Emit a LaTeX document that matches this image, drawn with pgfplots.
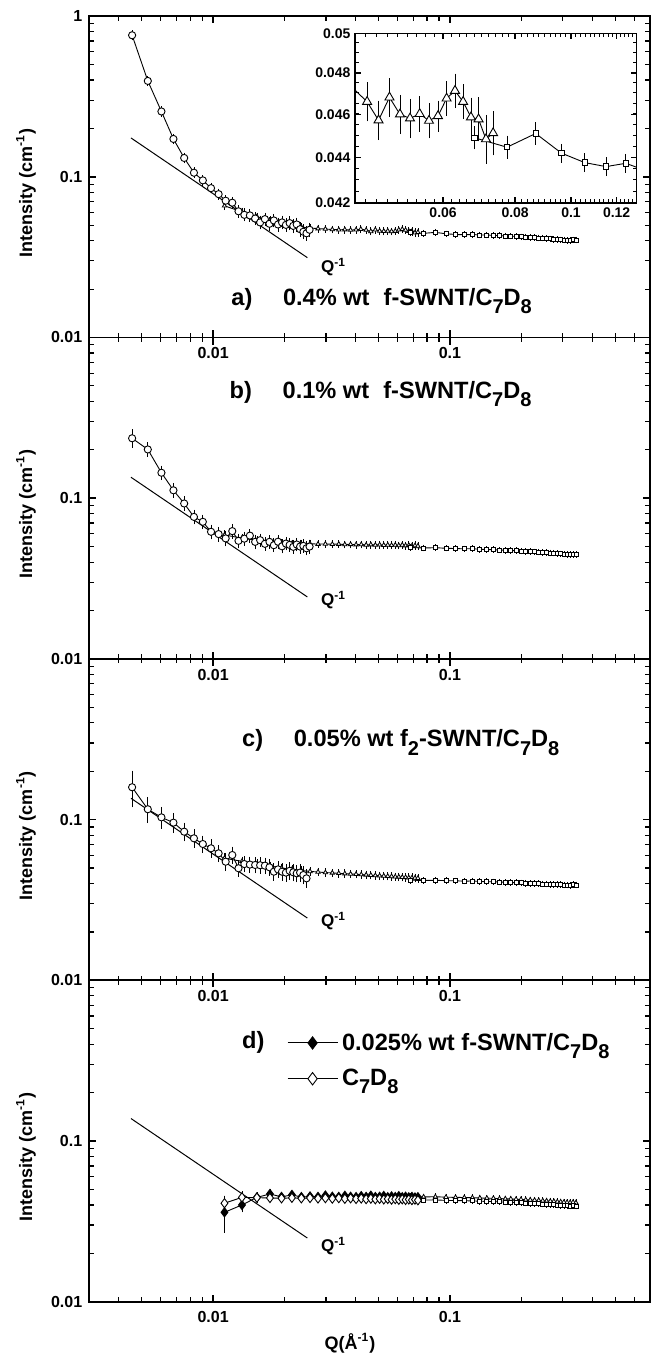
\documentclass[border=0pt]{standalone}
\usepackage{fontspec}
\setmainfont{Liberation Sans}
\usepackage{pgfplots}
\usepackage{pgfplotstable}
\pgfplotsset{compat=1.18}

% ---------- panel a) 0.4% wt ----------
\pgfplotstableread{
q I e
0.00455 0.760 0.025
0.0053 0.395 0.013
0.00605 0.255 0.009
0.0068 0.172 0.006
0.00755 0.131 0.005
0.0083 0.106 0.004
0.00905 0.095 0.0035
0.0098 0.085 0.003
0.01055 0.078 0.003
0.0113 0.071 0.003
0.01205 0.069 0.003
0.0128 0.061 0.003
0.01355 0.058 0.003
0.0143 0.0575 0.003
0.01505 0.055 0.003
0.0158 0.052 0.003
0.01655 0.0545 0.003
0.0173 0.051 0.003
0.01805 0.0535 0.003
0.0188 0.0505 0.003
0.01955 0.052 0.003
0.0203 0.0502 0.003
0.02105 0.0515 0.003
0.0218 0.0495 0.003
0.02255 0.0505 0.003
0.0233 0.0472 0.003
0.02405 0.0455 0.003
0.0248 0.0445 0.003
0.02555 0.0468 0.003
}\CircA
\pgfplotstableread{
q I e
0.01117 0.0660 0.0015
0.01324 0.0605 0.0012
0.01531 0.0565 0.0010
0.01738 0.0535 0.0010
0.01945 0.0515 0.0009
0.02152 0.0498 0.0009
0.02359 0.0487 0.0008
0.02566 0.0480 0.0008
0.02773 0.0476 0.0008
0.0298 0.0473 0.0008
0.03187 0.0470 0.0008
0.03394 0.0468 0.0008
0.03601 0.0469 0.0008
0.03808 0.0466 0.0008
0.04015 0.0468 0.0008
0.04205 0.0472 0.0008
0.04429 0.0466 0.0008
0.04636 0.04572 0.0008
0.04843 0.04681 0.0008
0.0505 0.0460 0.0008
0.05257 0.04581 0.0008
0.05464 0.04602 0.0007
0.05671 0.0457 0.0007
0.05878 0.04592 0.0006
0.06085 0.04676 0.0007
0.06292 0.04713 0.0007
0.06499 0.0466 0.0007
0.06706 0.04586 0.0008
0.06913 0.04577 0.0009
0.0712 0.04484 0.0010
0.07327 0.04512 0.0009
}\TriA
\pgfplotstableread{
q I e
0.06805 0.0449 0.0004
0.07745 0.04447 0.0004
0.08685 0.0451 0.0004
0.09625 0.0442 0.0003
0.10565 0.04377 0.0003
0.11505 0.04359 0.0003
0.12445 0.04374 0.0003
0.13385 0.04344 0.0003
0.14325 0.0434 0.0003
0.15265 0.0432 0.0003
0.16205 0.0431 0.0003
0.17145 0.0428 0.0003
0.18085 0.0427 0.0003
0.19025 0.0426 0.0003
0.19965 0.0423 0.0003
0.20905 0.0422 0.0003
0.21845 0.0420 0.0003
0.22785 0.0418 0.0003
0.23725 0.0416 0.0003
0.24665 0.0415 0.0003
0.25605 0.0413 0.0003
0.26545 0.0411 0.0003
0.27485 0.0409 0.0003
0.28425 0.0407 0.0003
0.29365 0.0405 0.0003
0.30305 0.0404 0.0003
0.31245 0.0402 0.0003
0.32185 0.0401 0.0003
0.33125 0.0405 0.0003
0.34065 0.0404 0.0003
}\SqA

% ---------- panel b) 0.1% wt ----------
\pgfplotstableread{
q I e
0.00455 0.236 0.022
0.0053 0.201 0.013
0.00605 0.144 0.009
0.0068 0.112 0.007
0.00755 0.0927 0.006
0.0083 0.0765 0.005
0.00905 0.0713 0.0045
0.0098 0.0618 0.004
0.01055 0.0598 0.004
0.0113 0.0562 0.004
0.01205 0.0624 0.004
0.0128 0.0543 0.0035
0.01355 0.0560 0.0035
0.0143 0.0585 0.0035
0.01505 0.0535 0.0035
0.0158 0.0548 0.003
0.01655 0.0520 0.003
0.0173 0.0535 0.003
0.01805 0.0510 0.003
0.0188 0.0536 0.003
0.01955 0.0502 0.003
0.0203 0.0522 0.003
0.02105 0.0512 0.003
0.0218 0.0498 0.003
0.02255 0.0515 0.003
0.0233 0.0500 0.003
0.02405 0.0505 0.003
0.0248 0.0488 0.003
0.02555 0.0500 0.003
}\CircB
\pgfplotstableread{
q I e
0.01117 0.0590 0.0015
0.01324 0.0565 0.0012
0.01531 0.0545 0.0010
0.01738 0.0532 0.0010
0.01945 0.0525 0.0009
0.02152 0.0522 0.0009
0.02359 0.0520 0.0008
0.02566 0.0521 0.0008
0.02773 0.0518 0.0008
0.0298 0.0519 0.0008
0.03187 0.0517 0.0008
0.03394 0.0518 0.0008
0.03601 0.0515 0.0008
0.03808 0.0516 0.0008
0.04015 0.0514 0.0008
0.04222 0.0515 0.0008
0.04429 0.0512 0.0008
0.04636 0.0514 0.0008
0.04843 0.0511 0.0008
0.0505 0.0513 0.0008
0.05257 0.0510 0.0008
0.05464 0.0512 0.0008
0.05671 0.0509 0.0008
0.05878 0.0511 0.0008
0.06085 0.0508 0.0008
0.06292 0.0512 0.0008
0.06499 0.0507 0.0008
0.06706 0.0509 0.0009
0.06913 0.0505 0.0009
0.0712 0.0507 0.0010
0.07327 0.0504 0.0010
}\TriB
\pgfplotstableread{
q I e
0.06805 0.0493 0.0004
0.07745 0.0490 0.0004
0.08685 0.0492 0.0004
0.09625 0.0488 0.0003
0.10565 0.0486 0.0003
0.11505 0.0484 0.0003
0.12445 0.0485 0.0003
0.13385 0.0481 0.0003
0.14325 0.0479 0.0003
0.15265 0.0478 0.0003
0.16205 0.0476 0.0003
0.17145 0.0474 0.0003
0.18085 0.0473 0.0003
0.19025 0.0471 0.0003
0.19965 0.0469 0.0003
0.20905 0.0467 0.0003
0.21845 0.0466 0.0003
0.22785 0.0464 0.0003
0.23725 0.0462 0.0003
0.24665 0.0460 0.0003
0.25605 0.0458 0.0003
0.26545 0.0456 0.0003
0.27485 0.0455 0.0003
0.28425 0.0453 0.0003
0.29365 0.0451 0.0003
0.30305 0.0449 0.0003
0.31245 0.0447 0.0003
0.32185 0.0445 0.0003
0.33125 0.0447 0.0003
0.34065 0.0446 0.0003
}\SqB

% ---------- panel c) 0.05% wt ----------
\pgfplotstableread{
q I e
0.00455 0.159 0.035
0.0053 0.116 0.017
0.00605 0.1033 0.012
0.0068 0.0957 0.010
0.00755 0.0841 0.008
0.0083 0.0765 0.007
0.00905 0.0705 0.006
0.0098 0.0663 0.006
0.01055 0.0617 0.005
0.0113 0.0547 0.005
0.01205 0.0602 0.005
0.0128 0.0498 0.004
0.01355 0.0529 0.004
0.0143 0.0525 0.004
0.01505 0.0522 0.004
0.0158 0.0520 0.004
0.01655 0.0517 0.004
0.0173 0.0505 0.004
0.01805 0.0474 0.004
0.0188 0.0490 0.004
0.01955 0.0474 0.004
0.0203 0.0468 0.004
0.02105 0.0480 0.004
0.0218 0.0470 0.004
0.02255 0.0463 0.004
0.0233 0.0468 0.004
0.02405 0.0452 0.004
0.0248 0.0431 0.004
}\CircC
\pgfplotstableread{
q I e
0.01117 0.0575 0.0018
0.01324 0.0550 0.0015
0.01531 0.0530 0.0013
0.01738 0.0515 0.0012
0.01945 0.0500 0.0011
0.02152 0.0490 0.0010
0.02359 0.0482 0.0010
0.02566 0.0476 0.0009
0.02773 0.0472 0.0009
0.0298 0.0468 0.0009
0.03187 0.0466 0.0009
0.03394 0.0463 0.0009
0.03601 0.0461 0.0009
0.03808 0.0459 0.0009
0.04015 0.0457 0.0009
0.04222 0.0455 0.0009
0.04429 0.0453 0.0009
0.04636 0.0451 0.0009
0.04843 0.0449 0.0009
0.0505 0.0447 0.0009
0.05257 0.0446 0.0009
0.05464 0.0444 0.0009
0.05671 0.0443 0.0009
0.05878 0.0441 0.0009
0.06085 0.0440 0.0009
0.06292 0.0438 0.0009
0.06499 0.0437 0.0009
0.06706 0.0435 0.0010
0.06913 0.0434 0.0010
0.0712 0.0433 0.0010
0.07327 0.0432 0.0010
}\TriC
\pgfplotstableread{
q I e
0.06805 0.0420 0.0004
0.07745 0.0418 0.0004
0.08685 0.0419 0.0004
0.09625 0.0417 0.0003
0.10565 0.0416 0.0003
0.11505 0.0414 0.0003
0.12445 0.0415 0.0003
0.13385 0.0412 0.0003
0.14325 0.0411 0.0003
0.15265 0.0410 0.0003
0.16205 0.0409 0.0003
0.17145 0.0407 0.0003
0.18085 0.0406 0.0003
0.19025 0.0405 0.0003
0.19965 0.0404 0.0003
0.20905 0.0402 0.0003
0.21845 0.0401 0.0003
0.22785 0.0400 0.0003
0.23725 0.0399 0.0003
0.24665 0.0398 0.0003
0.25605 0.0397 0.0003
0.26545 0.0396 0.0003
0.27485 0.0395 0.0003
0.28425 0.0394 0.0003
0.29365 0.0393 0.0003
0.30305 0.0392 0.0003
0.31245 0.0391 0.0003
0.32185 0.0390 0.0003
0.33125 0.0393 0.0003
0.34065 0.0392 0.0003
}\SqC

% ---------- panel d) 0.025% wt and solvent ----------
\pgfplotstableread{
q I e
0.01117 0.0360 0.0080
0.01324 0.0400 0.0025
0.01531 0.0446 0.0015
0.01738 0.0468 0.0012
0.01945 0.0449 0.0010
0.02152 0.0462 0.0010
0.02359 0.0448 0.0009
0.02566 0.0452 0.0009
0.02773 0.0449 0.0009
0.0298 0.0458 0.0009
0.03187 0.0450 0.0009
0.03394 0.0449 0.0009
0.03601 0.0456 0.0009
0.03808 0.0450 0.0009
0.04015 0.0448 0.0009
0.04222 0.0454 0.0009
0.04429 0.0449 0.0009
0.04636 0.0457 0.0009
0.04843 0.0448 0.0009
0.0505 0.0450 0.0009
0.05257 0.0455 0.0009
0.05464 0.0447 0.0009
0.05671 0.0452 0.0009
0.05878 0.0448 0.0009
0.06085 0.0454 0.0009
0.06292 0.0447 0.0009
0.06499 0.0450 0.0009
0.06706 0.0446 0.0010
0.06913 0.0449 0.0010
0.0712 0.0445 0.0010
0.07327 0.0447 0.0010
}\DiaS
\pgfplotstableread{
q I e
0.01117 0.0410 0.0030
0.01324 0.0446 0.0020
0.01531 0.0444 0.0012
0.01738 0.0442 0.0010
0.01945 0.0440 0.0009
0.02152 0.0443 0.0009
0.02359 0.0440 0.0008
0.02566 0.0442 0.0008
0.02773 0.0439 0.0008
0.0298 0.0441 0.0008
0.03187 0.0438 0.0008
0.03394 0.0441 0.0008
0.03601 0.0437 0.0008
0.03808 0.0440 0.0008
0.04015 0.0436 0.0008
0.04222 0.0439 0.0008
0.04429 0.0435 0.0008
0.04636 0.0438 0.0008
0.04843 0.0434 0.0008
0.0505 0.0437 0.0008
0.05257 0.0433 0.0008
0.05464 0.0436 0.0008
0.05671 0.0432 0.0008
0.05878 0.0435 0.0008
0.06085 0.0431 0.0008
0.06292 0.0434 0.0008
0.06499 0.0430 0.0008
0.06706 0.0433 0.0009
0.06913 0.0429 0.0009
0.0712 0.0432 0.0009
0.07327 0.0428 0.0009
}\DiaO
\pgfplotstableread{
q I e
0.06805 0.0451 0.0003
0.07745 0.0449 0.0003
0.08685 0.0450 0.0003
0.09625 0.0447 0.0003
0.10565 0.0446 0.0003
0.11505 0.0445 0.0003
0.12445 0.0444 0.0003
0.13385 0.0442 0.0003
0.14325 0.0441 0.0003
0.15265 0.0440 0.0003
0.16205 0.0438 0.0003
0.17145 0.0437 0.0003
0.18085 0.0436 0.0003
0.19025 0.0434 0.0003
0.19965 0.0433 0.0003
0.20905 0.0431 0.0003
0.21845 0.0430 0.0003
0.22785 0.0428 0.0003
0.23725 0.0427 0.0003
0.24665 0.0425 0.0003
0.25605 0.0424 0.0003
0.26545 0.0422 0.0003
0.27485 0.0421 0.0003
0.28425 0.0419 0.0003
0.29365 0.0418 0.0003
0.30305 0.0416 0.0003
0.31245 0.0415 0.0003
0.32185 0.0414 0.0003
0.33125 0.0416 0.0003
0.34065 0.0413 0.0003
}\TriD
\pgfplotstableread{
q I e
0.06805 0.0431 0.0003
0.07745 0.0429 0.0003
0.08685 0.0430 0.0003
0.09625 0.0427 0.0003
0.10565 0.0426 0.0003
0.11505 0.0425 0.0003
0.12445 0.0424 0.0003
0.13385 0.0422 0.0003
0.14325 0.0421 0.0003
0.15265 0.0420 0.0003
0.16205 0.0418 0.0003
0.17145 0.0417 0.0003
0.18085 0.0416 0.0003
0.19025 0.0414 0.0003
0.19965 0.0413 0.0003
0.20905 0.0411 0.0003
0.21845 0.0410 0.0003
0.22785 0.0408 0.0003
0.23725 0.0407 0.0003
0.24665 0.0405 0.0003
0.25605 0.0404 0.0003
0.26545 0.0402 0.0003
0.27485 0.0401 0.0003
0.28425 0.0399 0.0003
0.29365 0.0398 0.0003
0.30305 0.0396 0.0003
0.31245 0.0395 0.0003
0.32185 0.0394 0.0003
0.33125 0.0396 0.0003
0.34065 0.0394 0.0003
}\SqD

\newcommand\tickfont{\fontsize{8}{9.6}\selectfont\bfseries}
\newcommand\titlefont{\fontsize{11.8}{14}\selectfont\bfseries}
\newcommand\qfont{\fontsize{8.5}{10}\selectfont\bfseries}
\newcommand\labfont{\fontsize{9}{11}\selectfont\bfseries}
% large, low subscripts as in the original figure
\newcommand\sub[1]{\raisebox{-0.36em}{\fontsize{10}{10}\selectfont #1}}

\pgfplotsset{
  pts/.style={black, line width=0.45pt,
    error bars/y dir=both, error bars/y explicit,
    error bars/error bar style={line width=0.4pt, black},
    error bars/error mark options={black, line width=0.4pt, mark size=1.4pt}},
  circ/.style={pts, mark=*, mark size=1.8pt, mark options={fill=white, line width=0.45pt}},
  tri/.style={pts, mark=triangle*, mark size=1.25pt, mark options={fill=white, line width=0.4pt}},
  sqr/.style={pts, mark=square*, mark size=1.0pt, mark options={fill=white, line width=0.4pt}},
}

\begin{document}
\begin{tikzpicture}

% ---- a)
\begin{axis}[at={(0pt,482.1pt)}, anchor=south west,
  width=280.35pt, height=160.7pt, scale only axis,
  xmode=log, ymode=log, xmin=0.003, xmax=0.7, ymin=0.01, ymax=1,
  axis line style={line width=0.9pt}, tick align=inside,
  major tick length=3.6pt, minor tick length=2.3pt,
  every major tick/.append style={line width=0.8pt, black},
  every minor tick/.append style={line width=0.6pt, black},
  xtick={0.01,0.1}, xticklabels={0.01,0.1},
  minor xtick={0.004,0.005,0.006,0.007,0.008,0.009,0.02,0.03,0.04,0.05,0.06,0.07,0.08,0.09,0.2,0.3,0.4,0.5,0.6},
  ytick={0.01,0.1,1}, yticklabels={0.01,0.1,1},
  minor ytick={0.02,0.03,0.04,0.05,0.06,0.07,0.08,0.09,0.2,0.3,0.4,0.5,0.6,0.7,0.8,0.9},
  tick label style={font=\tickfont}, xticklabel style={yshift=-1.5pt},
  ylabel={Intensity (cm\textsuperscript{-1})},
  ylabel style={at={(axis description cs:-0.113,0.45)}, anchor=center, font=\labfont},
]
\addplot[black, line width=0.5pt, mark=none] coordinates {(0.0045,0.1745) (0.025,0.0314)};
\addplot[tri] table[x=q, y=I, y error=e] {\TriA};
\addplot[sqr] table[x=q, y=I, y error=e] {\SqA};
\addplot[circ] table[x=q, y=I, y error=e] {\CircA};
\node[anchor=base west, inner sep=0pt, font=\qfont] at (axis cs:0.0285,0.0255) {Q\textsuperscript{-1}};
\node[anchor=base west, inner sep=0pt, font=\titlefont] at (axis description cs:0.2527,0.101)
  {a)\hspace{1.3em}0.4\% wt\hspace{0.6em}f-SWNT/C\sub{7}D\sub{8}};
\end{axis}

% ---- inset of a)
\begin{axis}[at={(132.85pt,549.5pt)}, anchor=south west,
  width=140.85pt, height=84.7pt, scale only axis,
  xmode=log, ymode=log,
  xmin=0.0422, xmax=0.130, ymin=0.042, ymax=0.05,
  axis background/.style={fill=white},
  axis line style={line width=0.8pt}, tick align=inside,
  major tick length=3pt, minor tick length=1.8pt,
  every major tick/.append style={line width=0.7pt, black},
  every minor tick/.append style={line width=0.5pt, black},
  xtick={0.06,0.08,0.1,0.12}, xticklabels={0.06,0.08,0.1,0.12},
  minor xtick={0.044,0.046,...,0.129},
  ytick={0.042,0.044,0.046,0.048,0.05}, yticklabels={0.042,0.044,0.046,0.048,0.05},
  minor ytick={0.0425,0.043,...,0.0496},
  tick label style={font=\fontsize{7}{8}\selectfont\bfseries},
  xticklabel style={yshift=1pt}, yticklabel style={xshift=1.2pt},
]
\addplot[pts, mark=triangle*, mark size=2.6pt, mark options={fill=white, line width=0.45pt}]
  table[x=q, y=I, y error=e] {\TriA};
\addplot[pts, mark=square*, mark size=1.35pt, mark options={fill=white, line width=0.45pt}]
  table[x=q, y=I, y error=e] {\SqA};
\end{axis}

% ---- b)
\begin{axis}[at={(0pt,321.4pt)}, anchor=south west,
  width=280.35pt, height=160.7pt, scale only axis,
  xmode=log, ymode=log, xmin=0.003, xmax=0.7, ymin=0.01, ymax=1,
  axis line style={line width=0.9pt}, tick align=inside,
  major tick length=3.6pt, minor tick length=2.3pt,
  every major tick/.append style={line width=0.8pt, black},
  every minor tick/.append style={line width=0.6pt, black},
  xtick={0.01,0.1}, xticklabels={0.01,0.1},
  minor xtick={0.004,0.005,0.006,0.007,0.008,0.009,0.02,0.03,0.04,0.05,0.06,0.07,0.08,0.09,0.2,0.3,0.4,0.5,0.6},
  ytick={0.01,0.1,1}, yticklabels={0.01,0.1,{}},
  minor ytick={0.02,0.03,0.04,0.05,0.06,0.07,0.08,0.09,0.2,0.3,0.4,0.5,0.6,0.7,0.8,0.9},
  tick label style={font=\tickfont}, xticklabel style={yshift=-1.5pt},
  ylabel={Intensity (cm\textsuperscript{-1})},
  ylabel style={at={(axis description cs:-0.113,0.45)}, anchor=center, font=\labfont},
]
\addplot[black, line width=0.5pt, mark=none] coordinates {(0.0045,0.135) (0.025,0.0243)};
\addplot[tri] table[x=q, y=I, y error=e] {\TriB};
\addplot[sqr] table[x=q, y=I, y error=e] {\SqB};
\addplot[circ] table[x=q, y=I, y error=e] {\CircB};
\node[anchor=base west, inner sep=0pt, font=\qfont] at (axis cs:0.0285,0.0216) {Q\textsuperscript{-1}};
\node[anchor=base west, inner sep=0pt, font=\titlefont] at (axis description cs:0.2497,0.811)
  {b)\hspace{1.3em}0.1\% wt\hspace{0.6em}f-SWNT/C\sub{7}D\sub{8}};
\end{axis}

% ---- c)
\begin{axis}[at={(0pt,160.7pt)}, anchor=south west,
  width=280.35pt, height=160.7pt, scale only axis,
  xmode=log, ymode=log, xmin=0.003, xmax=0.7, ymin=0.01, ymax=1,
  axis line style={line width=0.9pt}, tick align=inside,
  major tick length=3.6pt, minor tick length=2.3pt,
  every major tick/.append style={line width=0.8pt, black},
  every minor tick/.append style={line width=0.6pt, black},
  xtick={0.01,0.1}, xticklabels={0.01,0.1},
  minor xtick={0.004,0.005,0.006,0.007,0.008,0.009,0.02,0.03,0.04,0.05,0.06,0.07,0.08,0.09,0.2,0.3,0.4,0.5,0.6},
  ytick={0.01,0.1,1}, yticklabels={0.01,0.1,{}},
  minor ytick={0.02,0.03,0.04,0.05,0.06,0.07,0.08,0.09,0.2,0.3,0.4,0.5,0.6,0.7,0.8,0.9},
  tick label style={font=\tickfont}, xticklabel style={yshift=-1.5pt},
  ylabel={Intensity (cm\textsuperscript{-1})},
  ylabel style={at={(axis description cs:-0.113,0.45)}, anchor=center, font=\labfont},
]
\addplot[black, line width=0.5pt, mark=none] coordinates {(0.0045,0.1357) (0.025,0.0244)};
\addplot[tri] table[x=q, y=I, y error=e] {\TriC};
\addplot[sqr] table[x=q, y=I, y error=e] {\SqC};
\addplot[circ] table[x=q, y=I, y error=e] {\CircC};
\node[anchor=base west, inner sep=0pt, font=\qfont] at (axis cs:0.0285,0.0216) {Q\textsuperscript{-1}};
\node[anchor=base west, inner sep=0pt, font=\titlefont] at (axis description cs:0.272,0.727)
  {c)\hspace{1.3em}0.05\% wt f\sub{2}-SWNT/C\sub{7}D\sub{8}};
\end{axis}

% ---- d)
\begin{axis}[at={(0pt,0pt)}, anchor=south west,
  width=280.35pt, height=160.7pt, scale only axis,
  xmode=log, ymode=log, xmin=0.003, xmax=0.7, ymin=0.01, ymax=1,
  axis line style={line width=0.9pt}, tick align=inside,
  major tick length=3.6pt, minor tick length=2.3pt,
  every major tick/.append style={line width=0.8pt, black},
  every minor tick/.append style={line width=0.6pt, black},
  xtick={0.01,0.1}, xticklabels={0.01,0.1},
  minor xtick={0.004,0.005,0.006,0.007,0.008,0.009,0.02,0.03,0.04,0.05,0.06,0.07,0.08,0.09,0.2,0.3,0.4,0.5,0.6},
  ytick={0.01,0.1,1}, yticklabels={0.01,0.1,{}},
  minor ytick={0.02,0.03,0.04,0.05,0.06,0.07,0.08,0.09,0.2,0.3,0.4,0.5,0.6,0.7,0.8,0.9},
  tick label style={font=\tickfont}, xticklabel style={yshift=-1.5pt},
  ylabel={Intensity (cm\textsuperscript{-1})},
  ylabel style={at={(axis description cs:-0.113,0.45)}, anchor=center, font=\labfont},
  xlabel={Q(Å\textsuperscript{-1})},
  xlabel style={at={(axis description cs:0.465,-0.129)}, anchor=center, font=\labfont},
  legend style={at={(axis description cs:0.352,0.85)}, anchor=north west,
    draw=none, fill=none, inner sep=0pt, row sep=4pt, font=\titlefont},
  legend cell align=left,
  legend image code/.code={\draw[mark repeat=2, mark phase=2, line width=0.5pt, mark size=3.1pt]
    plot coordinates {(0pt,0pt) (12.5pt,0pt) (25pt,0pt)};},
]
\addplot[black, line width=0.5pt, mark=none, forget plot] coordinates {(0.0045,0.138) (0.025,0.0249)};
\addplot[tri, forget plot] table[x=q, y=I, y error=e] {\TriD};
\addplot[sqr, forget plot] table[x=q, y=I, y error=e] {\SqD};
\addplot[pts, mark=diamond*, mark size=2.3pt, mark options={fill=black, line width=0.45pt}]
  table[x=q, y=I, y error=e] {\DiaS};
\addlegendentry{0.025\% wt f-SWNT/C\sub{7}D\sub{8}}
\addplot[pts, mark=diamond*, mark size=2.3pt, mark options={fill=white, line width=0.45pt}]
  table[x=q, y=I, y error=e] {\DiaO};
\addlegendentry{C\sub{7}D\sub{8}}
\node[anchor=base west, inner sep=0pt, font=\qfont] at (axis cs:0.0285,0.0205) {Q\textsuperscript{-1}};
\node[anchor=base west, inner sep=0pt, font=\titlefont] at (axis description cs:0.272,0.788) {d)};
\end{axis}

\pgfresetboundingbox
\useasboundingbox (-44.65pt,-26.15pt) rectangle (281.85pt,650.85pt);
\end{tikzpicture}
\end{document}
